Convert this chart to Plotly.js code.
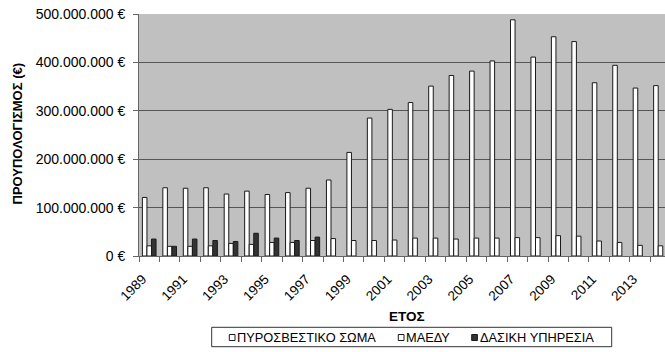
<!DOCTYPE html>
<html>
<head>
<meta charset="utf-8">
<script src="https://cdn.plot.ly/plotly-3.0.1.min.js"></script>
<style>
  html, body { margin: 0; padding: 0; background: #ffffff; }
  #chart { width: 665px; height: 352px; }
</style>
</head>
<body>
<div id="chart"></div>
<script>
// Annual budget per agency, in euros
const years = [1989, 1990, 1991, 1992, 1993, 1994, 1995, 1996, 1997, 1998, 1999, 2000, 2001,
               2002, 2003, 2004, 2005, 2006, 2007, 2008, 2009, 2010, 2011, 2012, 2013, 2014];

const seriesNames = ['ΠΥΡΟΣΒΕΣΤΙΚΟ ΣΩΜΑ', 'ΜΑΕΔΥ', 'ΔΑΣΙΚΗ ΥΠΗΡΕΣΙΑ'];

const fireService = [121e6, 141e6, 140e6, 141e6, 128e6, 134e6, 127e6, 131e6, 140e6, 157e6,
                     214e6, 285e6, 303e6, 317e6, 351e6, 373e6, 382e6, 403e6, 488e6, 411e6,
                     453e6, 443e6, 358e6, 394e6, 347e6, 352e6];

const maedy = [21e6, 20e6, 20e6, 21e6, 26e6, 24e6, 28e6, 28e6, 32e6, 36e6,
               32e6, 32e6, 33e6, 37e6, 37e6, 35e6, 37e6, 37e6, 38e6, 38e6,
               42e6, 41e6, 31e6, 28e6, 22e6, 21e6];

const forestService = [35e6, 20e6, 35e6, 32e6, 30e6, 47e6, 37e6, 32e6, 39e6, null,
                       null, null, null, null, null, null, null, null, null, null,
                       null, null, null, null, null, null];

const xTickYears = [1989, 1991, 1993, 1995, 1997, 1999, 2001, 2003, 2005, 2007, 2009, 2011, 2013];
const yTickVals = [0, 100e6, 200e6, 300e6, 400e6, 500e6];
const yTickText = ['0 €', '100.000.000 €', '200.000.000 €', '300.000.000 €', '400.000.000 €', '500.000.000 €'];

const xTitle = 'ΕΤΟΣ';
const yTitle = 'ΠΡΟΥΠΟΛΟΓΙΣΜΟΣ (€)';

// Page geometry
const W = 665, H = 352;
const M = { l: 139, r: 0, t: 14, b: 96 };
const plotW = W - M.l - M.r;
const plotH = H - M.t - M.b;
const catPx = 20.45;            // width of one year slot in pixels
const labelNudge = 0.33;        // rotated year labels end slightly left of the slot centre
const px = v => (v - M.l) / plotW;        // pixel x -> paper x
const py = v => (H - M.b - v) / plotH;    // pixel y -> paper y

const FONT = 'Arial, "Liberation Sans", sans-serif';
const fills = ['#ffffff', '#ffffff', '#333333'];
const outline = '#1a1a1a';

const traces = [fireService, maedy, forestService].map((vals, i) => ({
  type: 'bar',
  name: seriesNames[i],
  x: years,
  y: vals,
  marker: { color: fills[i], line: { color: outline, width: 1 } },
  hoverinfo: 'x+y+name'
}));

// Legend drawn as a framed row of swatches and labels
const legendItems = [
  { sw: 229.3, tx: 236.0 },
  { sw: 398.3, tx: 405.0 },
  { sw: 471.7, tx: 478.5 }
];
const legendMidY = 337.5;
const shapes = [
  { type: 'rect', xref: 'paper', yref: 'paper',
    x0: px(211.7), x1: px(611.7), y0: py(327.3), y1: py(346.7),
    line: { color: '#333333', width: 1 }, fillcolor: 'rgba(0,0,0,0)' }
];
const annotations = [
  { text: yTitle, xref: 'paper', yref: 'paper', x: px(16.5), y: py(134),
    xanchor: 'center', yanchor: 'middle', textangle: -90, showarrow: false,
    font: { family: FONT, size: 13, color: '#000', weight: 'bold' } },
  { text: xTitle, xref: 'paper', yref: 'paper', x: px(407), y: py(316),
    xanchor: 'center', yanchor: 'middle', showarrow: false,
    font: { family: FONT, size: 13.5, color: '#000', weight: 'bold' } }
];
legendItems.forEach((it, i) => {
  shapes.push({ type: 'rect', xref: 'paper', yref: 'paper',
    x0: px(it.sw), x1: px(it.sw + 5.7), y0: py(legendMidY + 3), y1: py(legendMidY - 3),
    line: { color: outline, width: 1 }, fillcolor: fills[i] });
  annotations.push({ text: seriesNames[i], xref: 'paper', yref: 'paper',
    x: px(it.tx), y: py(legendMidY), xanchor: 'left', yanchor: 'middle',
    showarrow: false, borderpad: 0,
    font: { family: FONT, size: 12.8, color: '#000' } });
});

const layout = {
  width: W, height: H,
  margin: { l: M.l, r: M.r, t: M.t, b: M.b, pad: 0 },
  paper_bgcolor: '#ffffff',
  plot_bgcolor: '#c0c0c0',
  barmode: 'group',
  bargap: 0.333,
  bargroupgap: 0,
  showlegend: false,
  font: { family: FONT, color: '#000' },
  xaxis: {
    range: [1988.5, 1988.5 + plotW / catPx],
    tickmode: 'array',
    tickvals: xTickYears.map(y => y - labelNudge),
    ticktext: xTickYears.map(String),
    tickangle: -45,
    // invisible major ticks only push the year labels down from the axis
    ticks: 'outside', ticklen: 9, tickcolor: 'rgba(0,0,0,0)',
    minor: { tick0: 1988.5, dtick: 1, ticks: 'outside', ticklen: 5, tickcolor: '#666', showgrid: false },
    showline: true, linecolor: '#666', linewidth: 1,
    showgrid: false, zeroline: false,
    tickfont: { family: FONT, size: 13.5, color: '#000' },
    fixedrange: true
  },
  yaxis: {
    range: [0, 500e6],
    tickmode: 'array',
    tickvals: yTickVals,
    ticktext: yTickText,
    ticks: 'outside', ticklen: 5, tickcolor: '#666',
    ticklabelstandoff: 5,
    showline: true, linecolor: '#666', linewidth: 1,
    showgrid: true, gridcolor: '#555555', gridwidth: 1,
    zeroline: false,
    tickfont: { family: FONT, size: 14, color: '#000' },
    fixedrange: true
  },
  shapes: shapes,
  annotations: annotations
};

Plotly.newPlot('chart', traces, layout, { displayModeBar: false, staticPlot: true });
</script>
</body>
</html>
